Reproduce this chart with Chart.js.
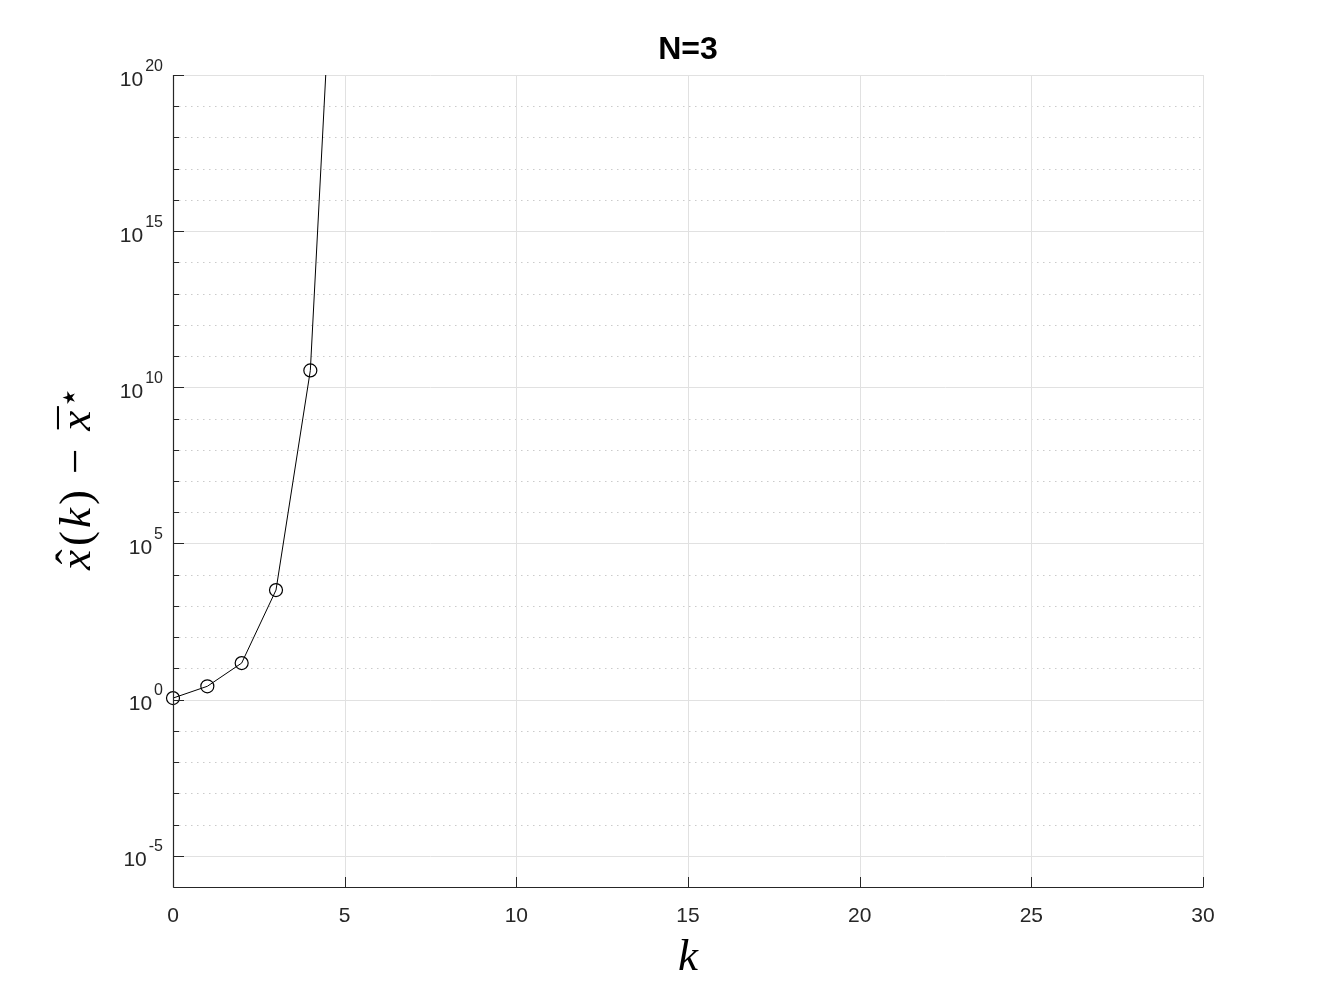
<!DOCTYPE html>
<html><head><meta charset="utf-8">
<script src="https://cdn.jsdelivr.net/npm/chart.js@4/dist/chart.umd.min.js"></script>
<style>html,body{margin:0;padding:0;background:#fff;}canvas{display:block;}</style>
</head><body>
<canvas id="c" width="1329" height="997"></canvas>
<script>
// ---- data ----
const titleText = 'N=3';
const kValues = [0, 1, 2, 3, 4, 5, 6, 7];
const errValues = [1.12, 2.67, 14.8, 3.22e3, 3.47e10, 4.2e31, 7.4e94, 4.0e284];
const xTickValues = [0, 5, 10, 15, 20, 25, 30];
const yMajorExponents = [-5, 0, 5, 10, 15, 20];
const yMinorExponents = [-4, -3, -2, -1, 1, 2, 3, 4, 6, 7, 8, 9, 11, 12, 13, 14, 16, 17, 18, 19];
const xAxisLabel = 'k';

const AX = '#262626';
const SANS = '"Liberation Sans", Arial, Helvetica, sans-serif';
const SERIF = '"Liberation Serif", "Times New Roman", serif';

function hline(ctx, x1, x2, y) { ctx.beginPath(); ctx.moveTo(x1, y); ctx.lineTo(x2, y); ctx.stroke(); }
function vline(ctx, x, y1, y2) { ctx.beginPath(); ctx.moveTo(x, y1); ctx.lineTo(x, y2); ctx.stroke(); }

const matlabAxes = {
  id: 'matlabAxes',
  beforeDatasetsDraw(chart) {
    const { ctx, chartArea: a, scales: { x, y } } = chart;
    ctx.save();
    ctx.lineWidth = 1;
    ctx.strokeStyle = '#cbcbcb';
    ctx.setLineDash([1.5, 4.5]);
    yMinorExponents.forEach(e => {
      const py = Math.round(y.getPixelForValue(Math.pow(10, e))) + 0.5;
      hline(ctx, a.left, a.right, py);
    });
    ctx.setLineDash([]);
    ctx.strokeStyle = '#e1e1e1';
    yMajorExponents.forEach(e => {
      const py = Math.round(y.getPixelForValue(Math.pow(10, e))) + 0.5;
      hline(ctx, a.left, a.right, py);
    });
    xTickValues.forEach(v => {
      const px = Math.round(x.getPixelForValue(v)) + 0.5;
      vline(ctx, px, a.top, a.bottom);
    });
    ctx.restore();
  },
  afterDatasetsDraw(chart) {
    const { ctx, chartArea: a, scales: { x, y } } = chart;
    ctx.save();
    const L = Math.round(a.left) + 0.5, B = Math.round(a.bottom) + 0.5;
    ctx.strokeStyle = AX; ctx.lineWidth = 1.2;
    vline(ctx, L, a.top, B);
    hline(ctx, L, a.right, B);
    ctx.lineWidth = 1;
    yMajorExponents.forEach(e => {
      const py = Math.round(y.getPixelForValue(Math.pow(10, e))) + 0.5;
      hline(ctx, L, L + 10.5, py);
    });
    yMinorExponents.forEach(e => {
      const py = Math.round(y.getPixelForValue(Math.pow(10, e))) + 0.5;
      hline(ctx, L, L + 5.5, py);
    });
    xTickValues.forEach(v => {
      const px = Math.round(x.getPixelForValue(v)) + 0.5;
      vline(ctx, px, B, B - 10.5);
    });
    // x tick labels
    ctx.fillStyle = AX;
    ctx.font = '21px ' + SANS;
    ctx.textAlign = 'center';
    ctx.textBaseline = 'alphabetic';
    xTickValues.forEach(v => {
      ctx.fillText(String(v), x.getPixelForValue(v), a.bottom + 34.5);
    });
    // y tick labels 10^e
    const R = a.left - 10;
    ctx.textAlign = 'left';
    yMajorExponents.forEach(e => {
      const py = y.getPixelForValue(Math.pow(10, e));
      const sup = String(e);
      ctx.font = '16px ' + SANS;
      const ws = ctx.measureText(sup).width;
      ctx.fillText(sup, R - ws, py - 4.5);
      ctx.font = '21px ' + SANS;
      const wb = ctx.measureText('10').width;
      ctx.fillText('10', R - ws - 2 - wb, py + 10.5);
    });
    // x axis label
    ctx.fillStyle = '#000';
    ctx.font = 'italic 45px ' + SERIF;
    ctx.textAlign = 'center';
    ctx.fillText(xAxisLabel, (a.left + a.right) / 2, 970);
    // y axis label: x^(k) - x-bar^star, rotated
    const fs = 45;
    const parts = [
      { t: 'x', it: true, adv: 0.572, acc: '\u02C6', accDy: -4 },
      { t: '(', adv: 0.389 },
      { t: 'k', it: true, adv: 0.521 },
      { t: ')', adv: 0.389 },
      { t: '\u2212', adv: 1.222 },
      { t: 'x', it: true, adv: 0.572, acc: '\u00AF', accDy: 1 },
      { t: '\u22C6', adv: 0.42, sup: true }
    ];
    const total = parts.reduce((s, p) => s + p.adv * fs, 0);
    ctx.translate(90, (a.top + a.bottom) / 2);
    ctx.rotate(-Math.PI / 2);
    let cx = -total / 2;
    parts.forEach(p => {
      const mid = cx + p.adv * fs / 2;
      if (p.sup) {
        ctx.font = '34px "DejaVu Sans", sans-serif';
        ctx.fillText(p.t, mid + 1, -10);
      } else {
        ctx.font = (p.it ? 'italic ' : '') + fs + 'px ' + SERIF;
        ctx.fillText(p.t, mid, 0);
        if (p.acc) {
          ctx.font = fs + 'px ' + SERIF;
          ctx.fillText(p.acc, mid + 3, p.accDy);
        }
      }
      cx += p.adv * fs;
    });
    ctx.restore();
  }
};

new Chart(document.getElementById('c'), {
  type: 'line',
  data: {
    datasets: [{
      data: kValues.map((k, i) => ({ x: k, y: errValues[i] })),
      borderColor: '#000',
      borderWidth: 1,
      pointRadius: 6.5,
      pointStyle: 'circle',
      pointBackgroundColor: 'rgba(0,0,0,0)',
      pointBorderColor: '#000',
      pointBorderWidth: 1.2,
      tension: 0,
      fill: false,
      clip: { left: 10, top: 0, right: 0, bottom: 10 }
    }]
  },
  options: {
    responsive: false,
    animation: false,
    devicePixelRatio: 1,
    layout: { padding: { left: 0, right: 126, top: 0, bottom: 0 } },
    plugins: {
      legend: { display: false },
      tooltip: { enabled: false },
      title: {
        display: true, text: titleText, color: '#000', fullSize: false,
        font: { family: SANS, size: 32, weight: 'bold', lineHeight: 1.2 },
        padding: { top: 31, bottom: 5.6 }
      }
    },
    scales: {
      x: {
        type: 'linear', min: 0, max: 30,
        grid: { display: false }, border: { display: false },
        ticks: { display: false },
        afterFit(s) { s.height = 110; }
      },
      y: {
        type: 'logarithmic', min: 1e-6, max: 1e20,
        grid: { display: false }, border: { display: false },
        ticks: { display: false },
        afterBuildTicks(s) { s.ticks = yMajorExponents.map(e => ({ value: Math.pow(10, e) })); },
        afterFit(s) { s.width = 173; }
      }
    }
  },
  plugins: [matlabAxes]
});
</script>
</body></html>
